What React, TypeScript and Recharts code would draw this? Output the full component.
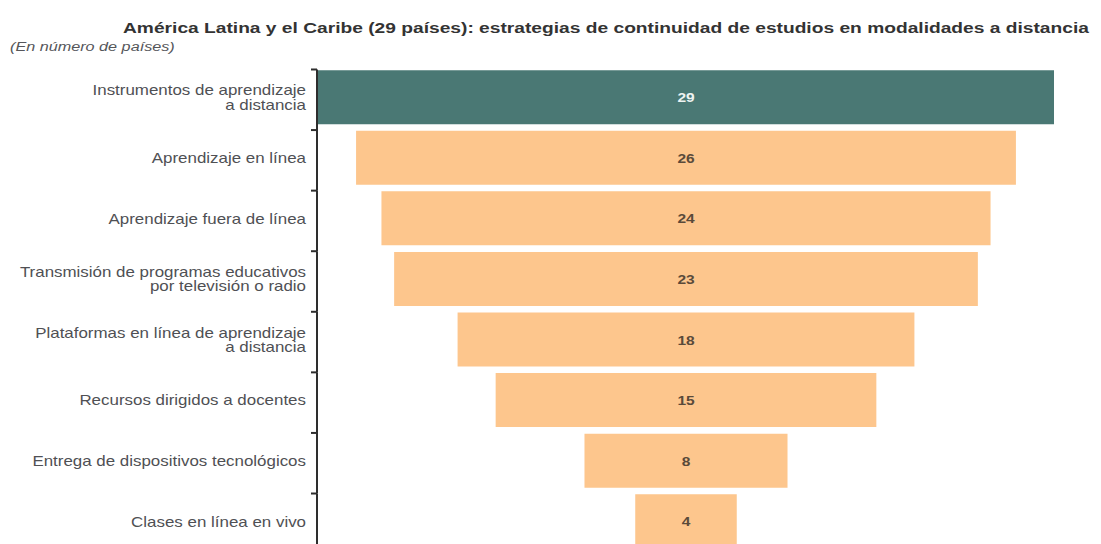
import React from "react";
import { BarChart, Bar, XAxis, YAxis, Cell, LabelList } from "recharts";

const categories: string[] = [
  "Instrumentos de aprendizaje\na distancia",
  "Aprendizaje en línea",
  "Aprendizaje fuera de línea",
  "Transmisión de programas educativos\npor televisión o radio",
  "Plataformas en línea de aprendizaje\na distancia",
  "Recursos dirigidos a docentes",
  "Entrega de dispositivos tecnológicos",
  "Clases en línea en vivo",
];

const values: number[] = [29, 26, 24, 23, 18, 15, 8, 4];

const TOTAL = 29;

const title =
  "América Latina y el Caribe (29 países): estrategias de continuidad de estudios en modalidades a distancia";
const subtitle = "(En número de países)";

const TEAL = "#4a7874";
const ORANGE = "#fdc68d";

const data = categories.map((name, i) => ({
  name,
  offset: (TOTAL - values[i]) / 2,
  value: values[i],
}));

const BAND = 60.57;

const CategoryTick = (props: any) => {
  const { x, y, payload } = props;
  const lines: string[] = String(payload.value).split("\n");
  const lh = 14.5;
  const start = -((lines.length - 1) * lh) / 2;
  const top = y - 28;
  return (
    <g>
      <line x1={x - 1} y1={top} x2={x - 1} y2={top + BAND} stroke="#2e2e2e" strokeWidth={2} />
      <line x1={x - 7} y1={top} x2={x - 1} y2={top} stroke="#2e2e2e" strokeWidth={2} />
      <g transform={`translate(${x - 12},${y}) scale(1.21,1)`}>
        <text
          textAnchor="end"
          fontFamily="'Liberation Sans', Arial, sans-serif"
          fontSize={14}
          fill="#4f5054"
        >
          {lines.map((l, i) => (
            <tspan key={i} x={0} y={start + i * lh + 5}>
              {l}
            </tspan>
          ))}
        </text>
      </g>
    </g>
  );
};

const ValueLabel = (props: any) => {
  const { x, y, width, height, value, index } = props;
  const first = index === 0 || value === TOTAL;
  const cx = x + width / 2;
  const cy = y + height / 2;
  return (
    <g transform={`translate(${cx},${cy}) scale(1.15,1)`}>
      <text
        x={0}
        y={0}
        dy={5}
        textAnchor="middle"
        fontFamily="'Liberation Sans', Arial, sans-serif"
        fontWeight="bold"
        fontSize={13.5}
        fill={first ? "#eef3f2" : "#5a4a3a"}
      >
        {value}
      </text>
    </g>
  );
};

export default function App() {
  return (
    <div
      style={{
        position: "relative",
        width: 1093,
        height: 536,
        background: "#fff",
        overflow: "hidden",
      }}
    >
      <svg
        width={1093}
        height={60}
        style={{ position: "absolute", left: 0, top: 0 }}
      >
        <g transform="translate(115,25) scale(1.238,1)">
          <text
            x={0}
            y={0}
            fontFamily="'Liberation Sans', Arial, sans-serif"
            fontWeight="bold"
            fontSize={15.5}
            fill="#333333"
          >
            {title}
          </text>
        </g>
        <g transform="translate(2,43) scale(1.2,1)">
          <text
            x={0}
            y={0}
            fontFamily="'Liberation Sans', Arial, sans-serif"
            fontStyle="italic"
            fontSize={13.5}
            fill="#55565a"
          >
            {subtitle}
          </text>
        </g>
      </svg>
      <BarChart
        width={1093}
        height={536}
        data={data}
        layout="vertical"
        margin={{ top: 59.2, right: 47, bottom: -7.8, left: 0 }}
        barSize={54}
      >
        <XAxis type="number" domain={[0, TOTAL]} hide />
        <YAxis
          type="category"
          dataKey="name"
          width={310}
          axisLine={false}
          tickLine={false}
          tickSize={0}
          tickMargin={0}
          interval={0}
          tick={<CategoryTick />}
        />
        <Bar dataKey="offset" stackId="a" fill="transparent" isAnimationActive={false} />
        <Bar dataKey="value" stackId="a" isAnimationActive={false}>
          {data.map((d, i) => (
            <Cell key={i} fill={i === 0 ? TEAL : ORANGE} />
          ))}
          <LabelList dataKey="value" position="center" content={<ValueLabel />} />
        </Bar>
      </BarChart>
    </div>
  );
}
